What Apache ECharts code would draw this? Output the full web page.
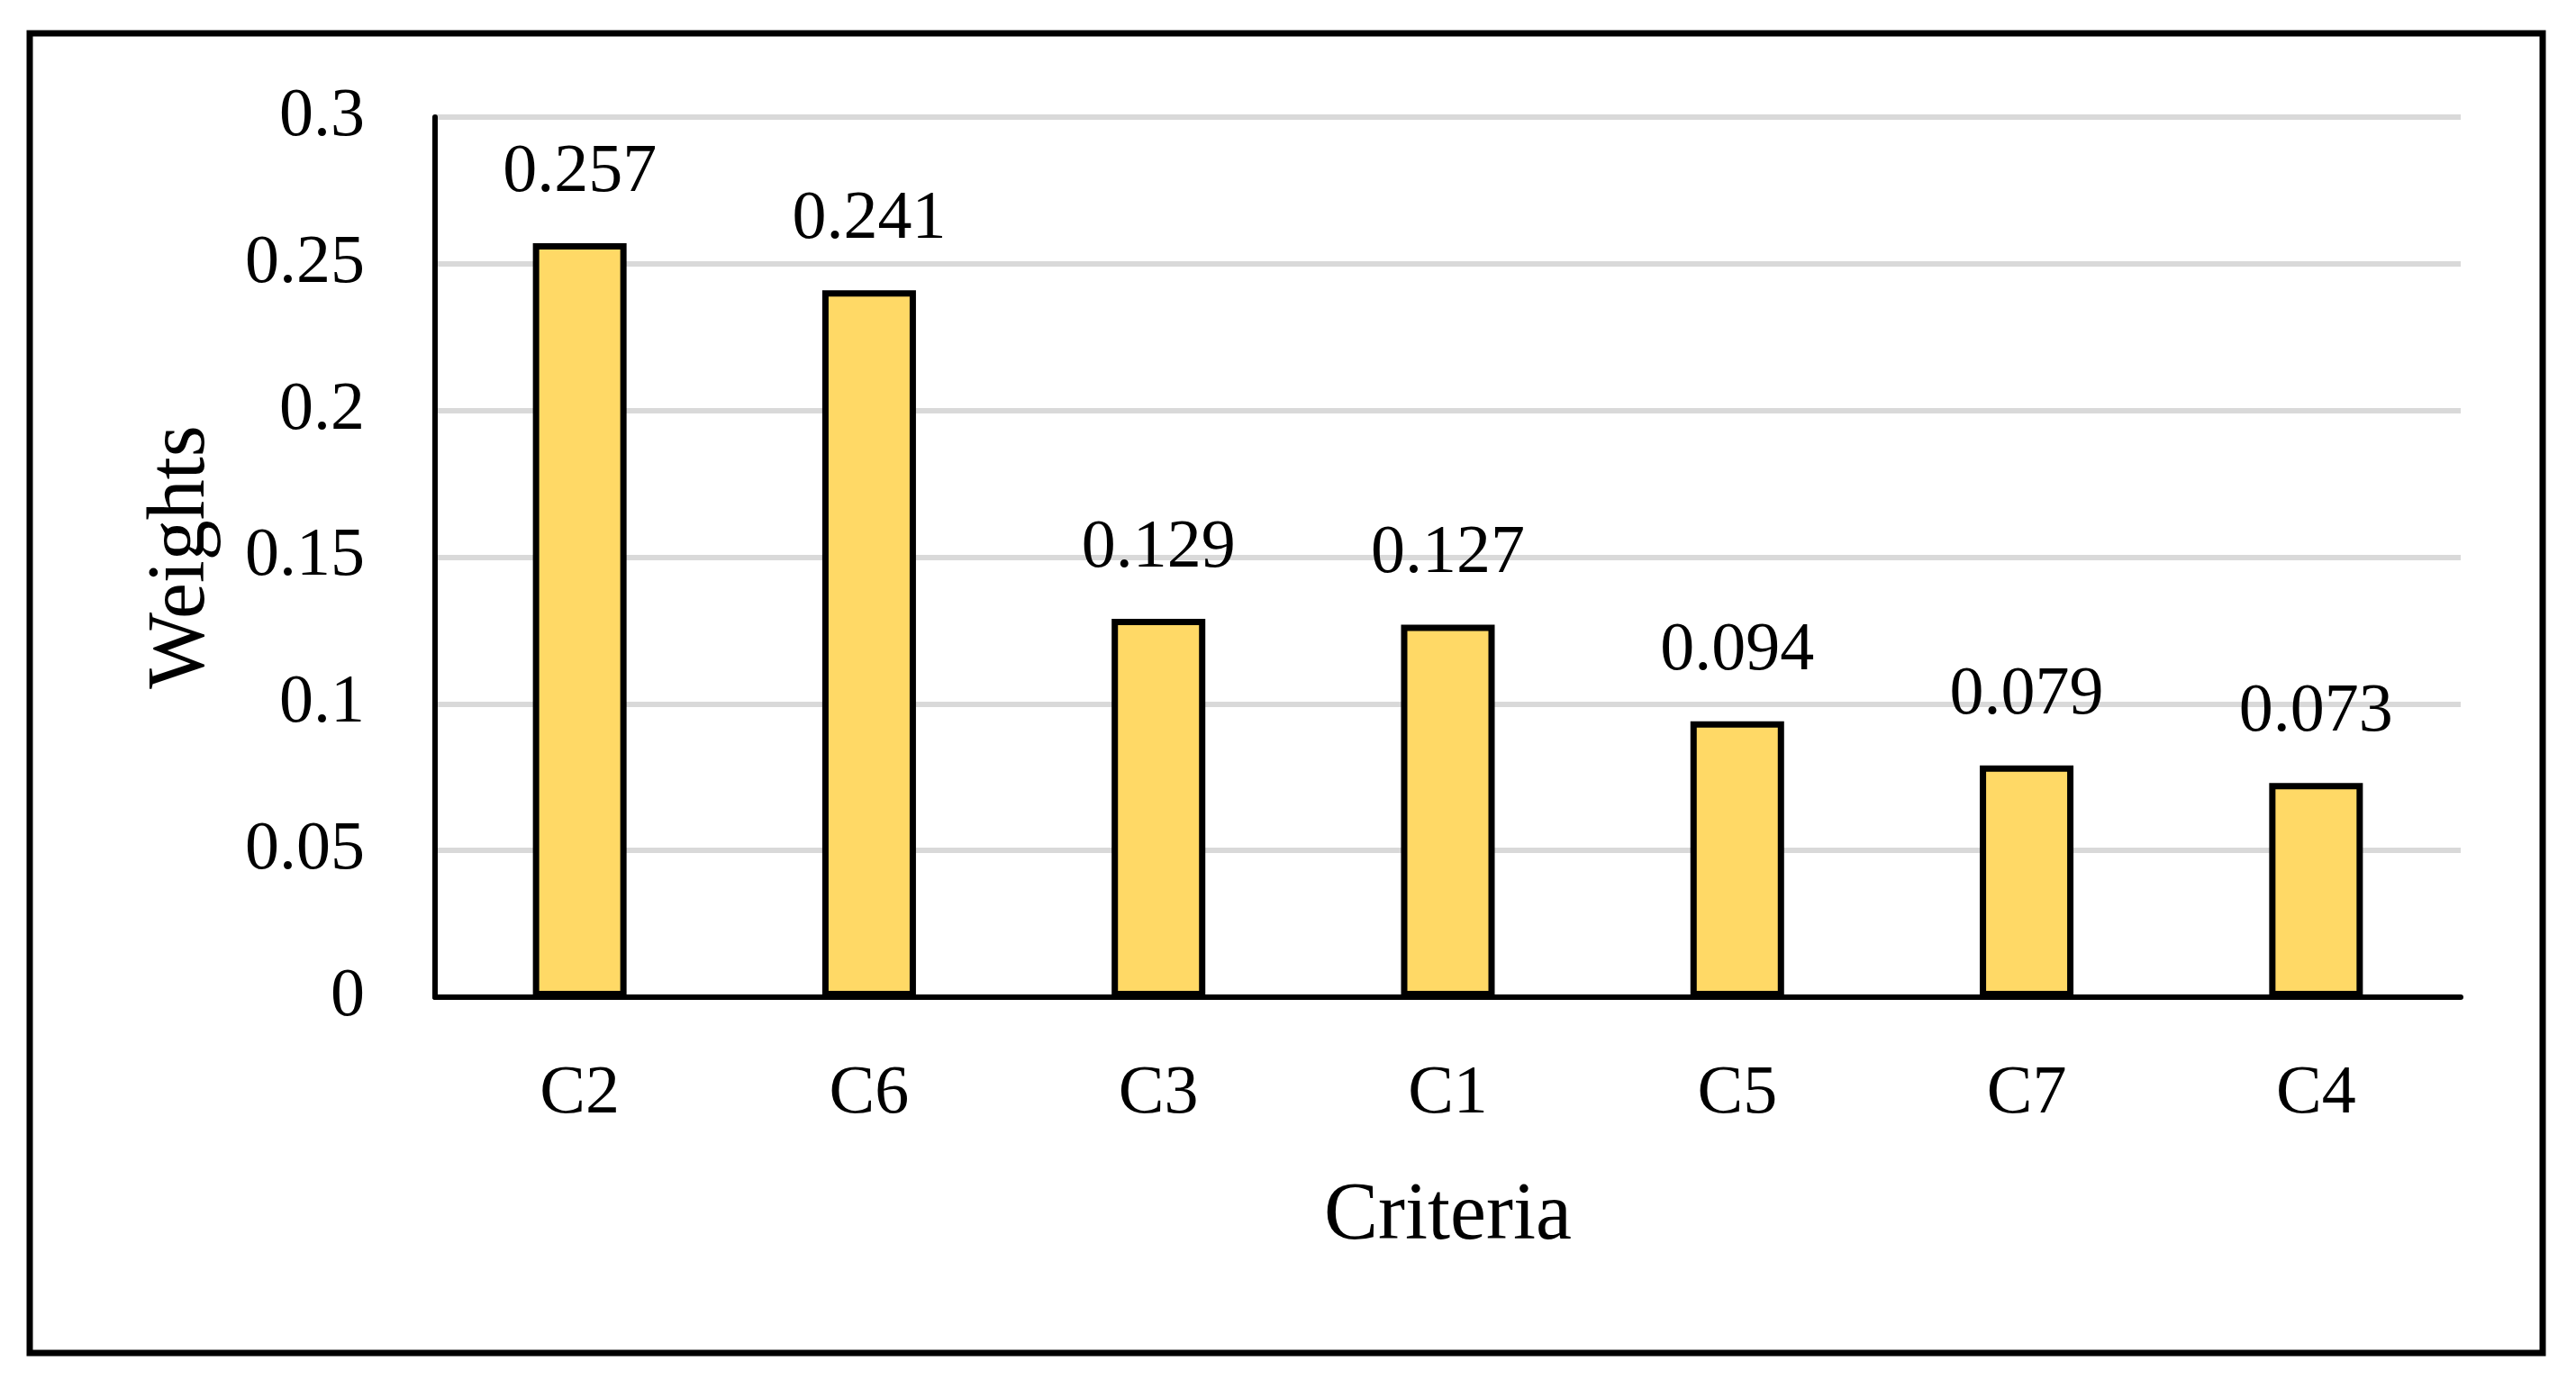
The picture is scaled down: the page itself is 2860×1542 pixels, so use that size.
<!DOCTYPE html>
<html>
<head>
<meta charset="utf-8">
<script src="https://cdn.jsdelivr.net/npm/echarts@6/dist/echarts.min.js"></script>
<style>
html,body{margin:0;padding:0;background:#fff;}
#chart{width:2860px;height:1542px;}
</style>
</head>
<body>
<div id="chart"></div>
<script>
const categories = ['C2', 'C6', 'C3', 'C1', 'C5', 'C7', 'C4'];
const weights = [0.257, 0.241, 0.129, 0.127, 0.094, 0.079, 0.073];
const xAxisTitle = 'Criteria';
const yAxisTitle = 'Weights';

const FONT = '"Liberation Serif", "DejaVu Serif", serif';
const chart = echarts.init(document.getElementById('chart'), null, {renderer: 'canvas'});
chart.setOption({
  backgroundColor: '#ffffff',
  animation: false,
  graphic: [{
    type: 'rect',
    shape: {x: 33, y: 37, width: 2790, height: 1465},
    style: {fill: 'none', stroke: '#000', lineWidth: 7}
  }],
  grid: {left: 483, right: 128, top: 130, bottom: 435},
  xAxis: {
    type: 'category',
    data: categories,
    axisLine: {lineStyle: {color: '#000', width: 6}},
    axisTick: {show: false},
    axisLabel: {color: '#000', fontFamily: FONT, fontSize: 76, margin: 70},
    name: xAxisTitle,
    nameLocation: 'middle',
    nameGap: 199,
    nameTextStyle: {color: '#000', fontFamily: FONT, fontSize: 90}
  },
  yAxis: {
    type: 'value',
    min: 0, max: 0.3, interval: 0.05,
    axisLine: {show: true, lineStyle: {color: '#000', width: 6}},
    axisTick: {show: false},
    axisLabel: {color: '#000', fontFamily: FONT, fontSize: 76, margin: 78},
    splitLine: {lineStyle: {color: '#D9D9D9', width: 6}},
    name: yAxisTitle,
    nameLocation: 'middle',
    nameGap: 236,
    nameRotate: 90,
    nameTextStyle: {color: '#000', fontFamily: FONT, fontSize: 90}
  },
  series: [{
    type: 'bar',
    data: weights,
    barWidth: 104,
    itemStyle: {color: '#FFD966', borderColor: '#000', borderWidth: 7},
    label: {
      show: true, position: 'top', distance: 40,
      color: '#000', fontFamily: FONT, fontSize: 76,
      formatter: p => p.value.toFixed(3)
    }
  }]
});
</script>
</body>
</html>
